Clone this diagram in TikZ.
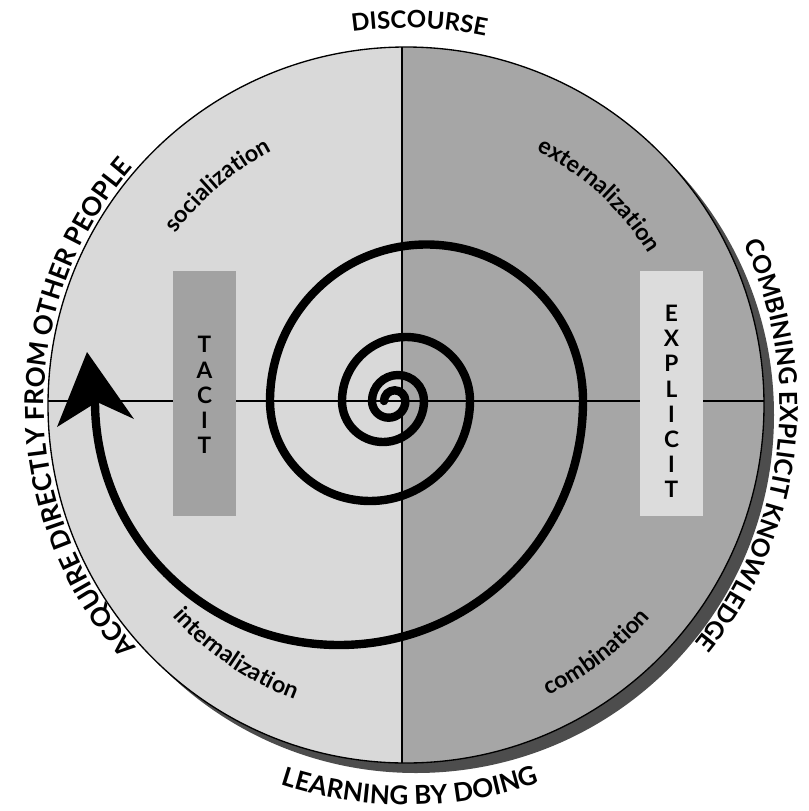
\documentclass[tikz,border=0pt]{standalone}
\usepackage{fontspec}
\setmainfont{Lato}
\usetikzlibrary{decorations.text}
\definecolor{lightg}{HTML}{D9D9D9}
\definecolor{midg}{HTML}{A6A6A6}
\definecolor{boxg}{HTML}{A2A2A2}
\definecolor{boxl}{HTML}{DCDCDC}
\definecolor{shadowg}{HTML}{4D4D4D}
\newcommand\bigfont{\fontsize{18}{22}\selectfont\bfseries}
\newcommand\widefont{\fontsize{19.5}{22}\selectfont\bfseries}
\newcommand\midfont{\fontsize{18.6}{22}\selectfont\bfseries}
\newcommand\boxfont{\fontsize{17}{18.9}\selectfont\bfseries}
\newcommand\labfont{\fontsize{17.5}{20}\selectfont\bfseries}
\begin{document}
\begin{tikzpicture}[x=0.75pt,y=-0.75pt,
  curvtext/.style={decorate, decoration={text along path, text align=center, text={#1}}},
  axisline/.style={line width=0.8pt, black},
  spiral/.style={line width=6.3pt, black, line cap=round, line join=round},
  letters/.style={font=\boxfont, align=center, inner sep=0pt}]
\useasboundingbox (0,0) rectangle (808,811);
\coordinate (c) at (406,405);
% shadow
\fill[shadowg] (416,415) circle[radius=358];
% halves
\begin{scope}
  \clip (c) circle[radius=358];
  \fill[lightg] (0,0) rectangle (402,811);
  \fill[midg] (402,0) rectangle (808,811);
  \draw[axisline] (402,0) -- (402,811);
  \draw[axisline] (0,401) -- (808,401);
\end{scope}
\draw[line width=1pt] (c) circle[radius=358];
% boxes
\fill[boxg] (173,271) rectangle (236,516);
\fill[boxl] (640,271) rectangle (703,516);
\node[letters] (tacit) at (204.5,395) {T\\A\\C\\I\\T};
\node[letters] (explicit) at (671.5,401.5) {E\\X\\P\\L\\I\\C\\I\\T};
% spiral
\draw[spiral] (384,401) arc[start angle=180,end angle=360,radius=10.7]
  arc[start angle=0,end angle=180,radius=16.7]
  arc[start angle=180,end angle=360,radius=26]
  arc[start angle=0,end angle=180,radius=41]
  arc[start angle=180,end angle=360,radius=64]
  arc[start angle=0,end angle=180,radius=100]
  arc[start angle=180,end angle=360,radius=156.5]
  arc[start angle=0,end angle=180,radius=244];
\fill (87,352) -- (134,419) -- (97,402) -- (57,427) -- cycle;
% outer texts
\path[curvtext={|\bigfont|DISCOURSE}] (c) ++(232:377) arc[start angle=232,end angle=312,radius=377];
\path[curvtext={|\widefont|LEARNING BY DOING}] (c) ++(129.4:400) arc[start angle=129.4,end angle=49.4,radius=400];
\path[curvtext={|\widefont|ACQUIRE DIRECTLY FROM OTHER PEOPLE}] (c) ++(129.5:362) arc[start angle=129.5,end angle=229.5,radius=362];
\path[curvtext={|\midfont|COMBINING EXPLICIT KNOWLEDGE}] (c) ++(-40:374) arc[start angle=-40,end angle=54,radius=374];
% quadrant labels
\path[curvtext={|\labfont|socialization}] (c) ++(199.4:287) arc[start angle=199.4,end angle=259.4,radius=287];
\path[curvtext={|\labfont|externalization}] (c) ++(282.6:286) arc[start angle=282.6,end angle=342.6,radius=286];
\path[curvtext={|\labfont|internalization}] (c) ++(154.3:315) arc[start angle=154.3,end angle=94.3,radius=315];
\path[curvtext={|\labfont|combination}] (c) ++(82.4:324) arc[start angle=82.4,end angle=22.4,radius=324];
\end{tikzpicture}
\end{document}
